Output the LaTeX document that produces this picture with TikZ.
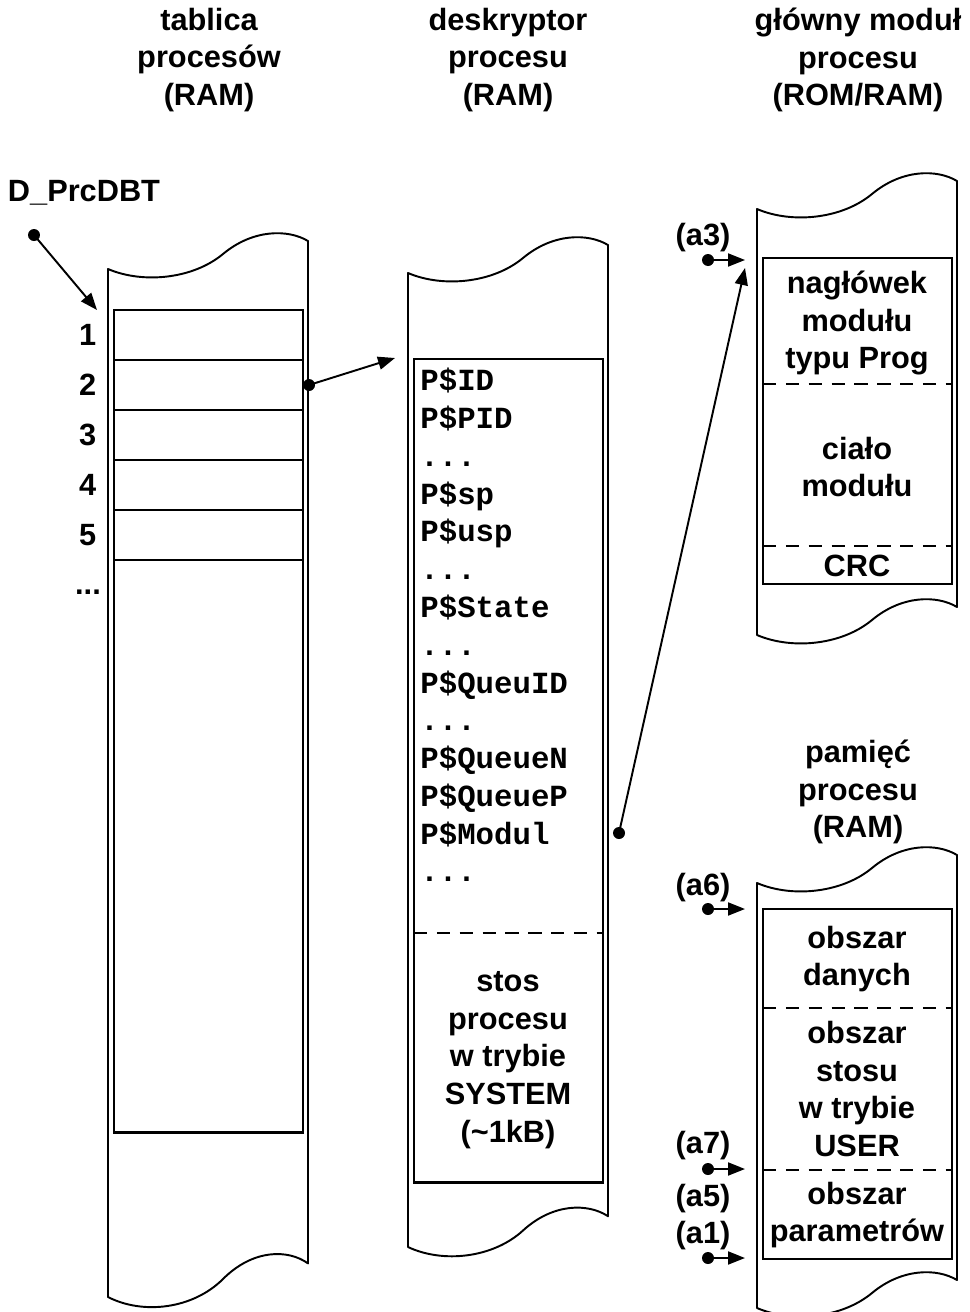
\documentclass[tikz,border=0pt]{standalone}
\usepackage{fontspec}
\setmainfont{Liberation Sans}
\setmonofont{Liberation Mono}
\usetikzlibrary{arrows.meta,positioning}
\newcommand{\bigbf}{\bfseries\fontsize{17.5}{21.5}\selectfont}
% strip of memory with torn top and bottom edge: left x, top y, bottom y, bottom wave size
\newcommand{\memband}[4]{%
  \draw[band] (#1,#2)
    .. controls ({#1+35},{#2+15}) and ({#1+85},{#2+10}) .. ({#1+115},{#2-15})
    .. controls ({#1+145},{#2-40}) and ({#1+180},{#2-40}) .. ({#1+200},{#2-28})
    -- ({#1+200},{#3-28*#4})
    .. controls ({#1+180},{#3-40*#4}) and ({#1+145},{#3-40*#4}) .. ({#1+115},{#3-15*#4})
    .. controls ({#1+85},{#3+10*#4}) and ({#1+35},{#3+15*#4}) .. (#1,#3)
    -- cycle;}

\begin{document}
\begin{tikzpicture}[
  x=0.02cm, y=-0.02cm,
  band/.style={line width=1.1pt, line join=round},
  frame/.style={draw, line width=1.6pt, inner sep=0pt, outer sep=0pt, anchor=north west, minimum width=3.78cm},
  row/.style={draw, line width=0.8pt, inner sep=0pt, outer sep=0pt, minimum width=3.78cm, minimum height=1cm},
  lbl/.style={font=\bigbf, align=center, inner sep=0pt},
  code/.style={font=\ttfamily\bigbf, align=left, inner sep=0pt, anchor=north west},
  sep/.style={line width=1.5pt, dash pattern=on 7.6pt off 5.4pt},
  arr/.style={-{Triangle[length=0.34cm, width=0.26cm]}, line width=1.1pt},
  dot/.style={circle, fill, inner sep=0pt, minimum size=0.24cm}
]
\useasboundingbox (0,0) rectangle (970,1312);

% titles
\node[lbl] (ttab) at (209,60) {tablica\\procesów\\(RAM)};
\node[lbl] (tdesc) at (508,60) {deskryptor\\procesu\\(RAM)};
\node[lbl] (tmod) at (858,60) {główny moduł\\procesu\\(ROM/RAM)};
\node[lbl] (tpam) at (858,792) {pamięć\\procesu\\(RAM)};

% memory strips
\memband{108}{269}{1297}{1.2}
\memband{408}{273}{1247}{1.1}
\memband{757}{209}{635}{1}
\memband{757}{883}{1308}{1}

% process table
\node[row, anchor=north west] (r1) at (114,310) {};
\node[row, below=0pt of r1] (r2) {};
\node[row, below=0pt of r2] (r3) {};
\node[row, below=0pt of r3] (r4) {};
\node[row, below=0pt of r4] (r5) {};
\node[frame, minimum height=16.46cm] (tab) at (114,310) {};
\node[lbl, left=0.35cm of r1] (n1) {1};
\node[lbl, left=0.35cm of r2] (n2) {2};
\node[lbl, left=0.35cm of r3] (n3) {3};
\node[lbl, left=0.35cm of r4] (n4) {4};
\node[lbl, left=0.35cm of r5] (n5) {5};
\node[lbl] (nmore) at (88,592) {...};

\node[lbl] (dbt) at (84,193) {D\_PrcDBT};
\node[dot] (dbtdot) at (34,235) {};
\coordinate (dbtend) at (97,310);
\draw[arr] (dbtdot.center) -- (dbtend);

% process descriptor
\node[frame, minimum height=16.48cm] (desc) at (414,359) {};
\node[code] (fields) at (420,368) {P\$ID\\P\$PID\\...\\P\$sp\\P\$usp\\...\\P\$State\\...\\P\$QueuID\\...\\P\$QueueN\\P\$QueueP\\P\$Modul\\...};
\draw[sep] (414,933) -- (603,933);
\node[lbl] (stack) at (508,1060) {stos\\procesu\\w trybie\\SYSTEM\\(\textasciitilde1kB)};

\node[dot] (rowdot) at (309,385) {};
\coordinate (rowend) at (395,358);
\draw[arr] (rowdot.center) -- (rowend);

% main module
\node[frame, minimum height=6.52cm] (modul) at (763,258) {};
\node[lbl] (head) at (857,323) {nagłówek\\modułu\\typu Prog};
\draw[sep] (763,384) -- (952,384);
\node[lbl] (body) at (857,467) {ciało\\modułu};
\draw[sep] (763,546) -- (952,546);
\node[lbl] (crc) at (857,566) {CRC};

\node[dot] (moddot) at (619,833) {};
\coordinate (modend) at (745,268);
\draw[arr] (moddot.center) -- (modend);

\node[lbl] (la3) at (703,238) {(a3)};
\node[dot] (a3) at (708,260) {};
\coordinate (a3end) at (745,260);
\draw[arr] (a3.center) -- (a3end);

% process memory
\node[frame, minimum height=7cm] (pam) at (763,909) {};
\node[lbl] (data) at (857,959) {obszar\\danych};
\draw[sep] (763,1008) -- (952,1008);
\node[lbl] (ustack) at (857,1089) {obszar\\stosu\\w trybie\\USER};
\draw[sep] (763,1170) -- (952,1170);
\node[lbl] (par) at (857,1215) {obszar\\parametrów};

\node[lbl] (la6) at (703,888) {(a6)};
\node[dot] (a6) at (708,909) {};
\coordinate (a6end) at (745,909);
\draw[arr] (a6.center) -- (a6end);

\node[lbl] (la7) at (703,1146) {(a7)};
\node[dot] (a7) at (708,1169) {};
\coordinate (a7end) at (745,1169);
\draw[arr] (a7.center) -- (a7end);

\node[lbl] (la5) at (703,1217) {(a5)\\(a1)};
\node[dot] (a1) at (708,1258) {};
\coordinate (a1end) at (745,1258);
\draw[arr] (a1.center) -- (a1end);
\end{tikzpicture}
\end{document}
